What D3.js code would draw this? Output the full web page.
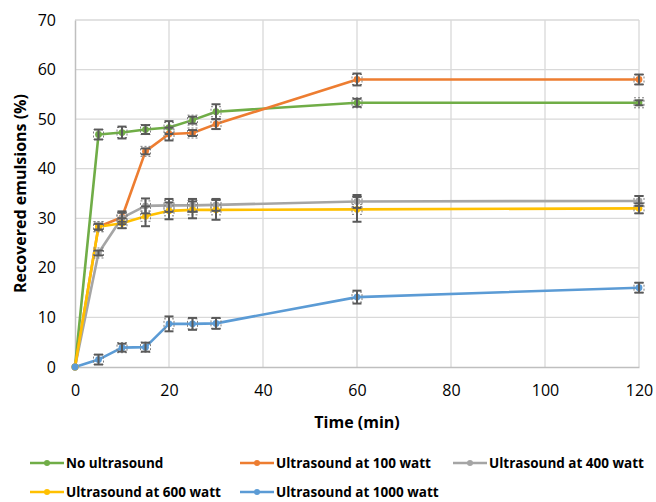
<!DOCTYPE html>
<html>
<head>
<meta charset="utf-8">
<script src="https://cdn.jsdelivr.net/npm/d3@7"></script>
<style>
  body { margin: 0; background: #fff; }
  text { font-family: "Open Sans", "Noto Sans", sans-serif; fill: #000; }
</style>
</head>
<body>
<div id="chart"></div>
<script>
// data
var times = [0, 5, 10, 15, 20, 25, 30, 60, 120];
var seriesNames = ["No ultrasound", "Ultrasound at 100 watt", "Ultrasound at 400 watt", "Ultrasound at 600 watt", "Ultrasound at 1000 watt"];
var noUltrasound = [0, 46.9, 47.3, 47.9, 48.3, 49.8, 51.5, 53.3, 53.3];
var us100 = [0, 28.3, 30.2, 43.5, 47.0, 47.2, 49.0, 58.0, 58.0];
var us400 = [0, 23.0, 30.1, 32.5, 32.6, 32.6, 32.7, 33.4, 33.5];
var us600 = [0, 28.3, 29.0, 30.4, 31.5, 31.7, 31.7, 31.8, 32.0];
var us1000 = [0, 1.5, 3.9, 4.0, 8.7, 8.7, 8.8, 14.1, 16.0];
var errNo = [0, 1.0, 1.2, 0.9, 1.3, 0.7, 1.5, 0.8, 0.5];
var err100 = [0, 0.6, 0.9, 0.6, 1.3, 0.6, 1.0, 1.2, 1.0];
var err400 = [0, 0.5, 1.3, 1.5, 1.3, 1.3, 1.2, 1.3, 1.0];
var err600 = [0, 0.6, 1.0, 2.0, 1.7, 1.7, 2.0, 2.5, 1.0];
var err1000 = [0, 1.0, 0.8, 0.9, 1.5, 1.2, 1.1, 1.3, 1.0];
var xTicks = [0, 20, 40, 60, 80, 100, 120];
var yTicks = [0, 10, 20, 30, 40, 50, 60, 70];
var colors = ["#70ad47", "#ed7d31", "#a5a5a5", "#ffc000", "#5b9bd5"];

var allValues = [noUltrasound, us100, us400, us600, us1000];
var allErrors = [errNo, err100, err400, err600, err1000];

var width = 656, height = 502;
var svg = d3.select("#chart").append("svg").attr("width", width).attr("height", height);

var x = d3.scaleLinear().domain([0, 120]).range([75, 639]);
var y = d3.scaleLinear().domain([0, 70]).range([367, 20]);

// gridlines
svg.append("g").selectAll("line").data(yTicks.slice(1)).enter().append("line")
  .attr("x1", x(0)).attr("x2", x(120)).attr("y1", function(d){ return y(d); }).attr("y2", function(d){ return y(d); })
  .style("stroke", "#d9d9d9").style("stroke-width", 1.3);
svg.append("g").selectAll("line").data(xTicks.slice(1)).enter().append("line")
  .attr("x1", function(d){ return x(d); }).attr("x2", function(d){ return x(d); }).attr("y1", y(0)).attr("y2", y(70))
  .style("stroke", "#d9d9d9").style("stroke-width", 1.3);

// axes
var xAxis = svg.append("g").attr("transform", "translate(0," + y(0) + ")")
  .call(d3.axisBottom(x).tickValues(xTicks).tickSize(0).tickPadding(18));
var yAxis = svg.append("g").attr("transform", "translate(" + x(0) + ",0)")
  .call(d3.axisLeft(y).tickValues(yTicks).tickSize(0).tickPadding(19));
[xAxis, yAxis].forEach(function(a){
  a.select(".domain").style("stroke", "#bfbfbf").style("stroke-width", 1.5);
  a.selectAll("text").style("font-size", "16px").style("font-family", "'Open Sans', sans-serif");
});

svg.append("text").attr("x", (x(0) + x(120)) / 2).attr("y", 428).attr("text-anchor", "middle")
  .style("font-size", "16px").style("font-weight", "bold").text("Time (min)");
svg.append("text").attr("transform", "translate(26," + (y(35)) + ") rotate(-90)").attr("text-anchor", "middle")
  .style("font-size", "16px").style("font-weight", "bold").text("Recovered emulsions (%)");

// lines
var line = d3.line().x(function(d, i){ return x(times[i]); }).y(function(d){ return y(d); });
allValues.forEach(function(vals, s){
  svg.append("path").datum(vals).attr("d", line)
    .style("fill", "none").style("stroke", colors[s]).style("stroke-width", 2.6).style("stroke-linejoin", "round");
});

// markers then error bars
allValues.forEach(function(vals, s){
  svg.append("g").selectAll("circle").data(vals).enter().append("circle")
    .attr("cx", function(d, i){ return x(times[i]); }).attr("cy", function(d){ return y(d); })
    .attr("r", 3.4).style("fill", colors[s]);
});
allValues.forEach(function(vals, s){
  var errs = allErrors[s];
  var g = svg.append("g");
  vals.forEach(function(v, i){
    if (errs[i] <= 0) return;
    var cx = x(times[i]), cy = y(v);
    g.append("rect").attr("x", cx - 5).attr("y", cy - 5).attr("width", 10).attr("height", 10)
      .style("fill", "none").style("stroke", "#7f7f7f").style("stroke-width", 1).style("stroke-dasharray", "2,2");
    var top = y(v + errs[i]), bot = y(v - errs[i]);
    g.append("line").attr("x1", cx).attr("x2", cx).attr("y1", top).attr("y2", bot)
      .style("stroke", "#595959").style("stroke-width", 2);
    [top, bot].forEach(function(yy){
      g.append("line").attr("x1", cx - 4.5).attr("x2", cx + 4.5).attr("y1", yy).attr("y2", yy)
        .style("stroke", "#595959").style("stroke-width", 2);
    });
  });
});

// legend
var legendPos = [[30, 463], [240, 463], [453, 463], [30, 492], [240, 492]];
seriesNames.forEach(function(name, s){
  var lx = legendPos[s][0], ly = legendPos[s][1];
  var lg = svg.append("g");
  lg.append("line").attr("x1", lx).attr("x2", lx + 34).attr("y1", ly).attr("y2", ly)
    .style("stroke", colors[s]).style("stroke-width", 2.6);
  lg.append("circle").attr("cx", lx + 17).attr("cy", ly).attr("r", 3).style("fill", colors[s]);
  lg.append("text").attr("x", lx + 36).attr("y", ly + 5)
    .style("font-size", "13.5px").style("font-weight", "bold").text(name);
});
</script>
</body>
</html>
